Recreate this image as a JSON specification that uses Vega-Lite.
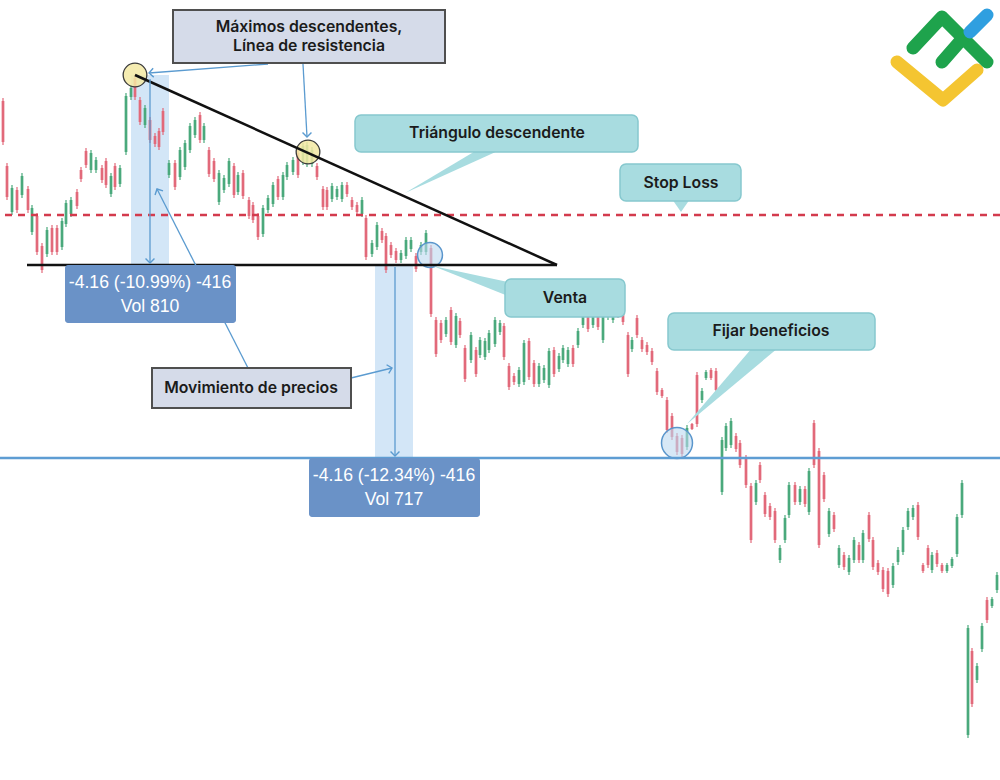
{
"$schema": "https://vega.github.io/schema/vega-lite/v6.json",
"width": 1000, "height": 780, "padding": 0,
"autosize": {"type": "none"},
"background": "white",
"config": {"view": {"stroke": null}},
"datasets": {
"candles": [
{"t":3,"o":37.48,"h":37.54,"l":36.60,"c":36.66},
{"t":7,"o":36.18,"h":36.24,"l":35.50,"c":35.56},
{"t":12,"o":35.26,"h":35.80,"l":35.20,"c":35.74},
{"t":17,"o":35.70,"h":35.76,"l":35.24,"c":35.30},
{"t":22,"o":35.60,"h":36.04,"l":35.54,"c":35.98},
{"t":28,"o":35.72,"h":35.78,"l":35.24,"c":35.30},
{"t":32,"o":34.86,"h":35.40,"l":34.80,"c":35.34},
{"t":37,"o":35.18,"h":35.24,"l":34.40,"c":34.46},
{"t":42,"o":34.58,"h":34.64,"l":34.04,"c":34.10},
{"t":47,"o":34.42,"h":34.96,"l":34.36,"c":34.90},
{"t":52,"o":34.94,"h":35.00,"l":34.40,"c":34.46},
{"t":57,"o":34.94,"h":35.00,"l":34.40,"c":34.46},
{"t":62,"o":34.56,"h":35.14,"l":34.50,"c":35.08},
{"t":66,"o":35.02,"h":35.50,"l":34.96,"c":35.44},
{"t":71,"o":35.22,"h":35.56,"l":35.16,"c":35.50},
{"t":77,"o":35.66,"h":35.72,"l":35.32,"c":35.38},
{"t":81,"o":36.10,"h":36.16,"l":35.86,"c":35.92},
{"t":86,"o":36.48,"h":36.54,"l":36.14,"c":36.20},
{"t":91,"o":36.10,"h":36.50,"l":36.04,"c":36.44},
{"t":96,"o":36.10,"h":36.36,"l":36.04,"c":36.30},
{"t":102,"o":36.14,"h":36.20,"l":35.84,"c":35.90},
{"t":106,"o":36.28,"h":36.34,"l":35.74,"c":35.80},
{"t":111,"o":35.62,"h":36.04,"l":35.56,"c":35.98},
{"t":115,"o":36.18,"h":36.24,"l":35.70,"c":35.76},
{"t":120,"o":35.82,"h":36.20,"l":35.76,"c":36.14},
{"t":126,"o":36.46,"h":37.64,"l":36.40,"c":37.58},
{"t":131,"o":37.56,"h":37.80,"l":37.50,"c":37.74},
{"t":135,"o":37.94,"h":38.00,"l":37.50,"c":37.56},
{"t":140,"o":37.50,"h":37.56,"l":37.00,"c":37.06},
{"t":145,"o":37.00,"h":37.40,"l":36.94,"c":37.34},
{"t":150,"o":37.10,"h":37.16,"l":36.64,"c":36.70},
{"t":155,"o":36.78,"h":36.84,"l":36.56,"c":36.62},
{"t":159,"o":36.88,"h":36.94,"l":36.50,"c":36.56},
{"t":163,"o":37.28,"h":37.34,"l":36.80,"c":36.86},
{"t":169,"o":36.00,"h":36.30,"l":35.94,"c":36.24},
{"t":175,"o":36.24,"h":36.30,"l":35.70,"c":35.76},
{"t":180,"o":35.96,"h":36.56,"l":35.90,"c":36.50},
{"t":185,"o":36.16,"h":36.70,"l":36.10,"c":36.64},
{"t":190,"o":36.50,"h":37.04,"l":36.44,"c":36.98},
{"t":195,"o":36.80,"h":37.16,"l":36.74,"c":37.10},
{"t":200,"o":37.20,"h":37.26,"l":36.64,"c":36.70},
{"t":204,"o":36.70,"h":37.04,"l":36.64,"c":36.98},
{"t":209,"o":36.50,"h":36.56,"l":35.96,"c":36.02},
{"t":214,"o":36.28,"h":36.34,"l":35.86,"c":35.92},
{"t":219,"o":35.46,"h":36.10,"l":35.40,"c":36.04},
{"t":224,"o":35.70,"h":36.00,"l":35.64,"c":35.94},
{"t":229,"o":35.82,"h":36.34,"l":35.76,"c":36.28},
{"t":234,"o":36.18,"h":36.24,"l":35.54,"c":35.60},
{"t":238,"o":35.66,"h":36.06,"l":35.60,"c":36.00},
{"t":243,"o":36.04,"h":36.10,"l":35.52,"c":35.58},
{"t":249,"o":35.50,"h":35.56,"l":35.12,"c":35.18},
{"t":253,"o":35.40,"h":35.46,"l":35.04,"c":35.10},
{"t":258,"o":35.18,"h":35.24,"l":34.70,"c":34.76},
{"t":263,"o":34.82,"h":35.40,"l":34.76,"c":35.34},
{"t":268,"o":35.30,"h":35.60,"l":35.24,"c":35.54},
{"t":273,"o":35.42,"h":35.86,"l":35.36,"c":35.80},
{"t":278,"o":35.92,"h":35.98,"l":35.50,"c":35.56},
{"t":283,"o":35.56,"h":36.06,"l":35.50,"c":36.00},
{"t":287,"o":35.96,"h":36.26,"l":35.90,"c":36.20},
{"t":293,"o":36.06,"h":36.36,"l":36.00,"c":36.30},
{"t":298,"o":36.44,"h":36.50,"l":35.94,"c":36.00},
{"t":303,"o":36.26,"h":36.64,"l":36.20,"c":36.58},
{"t":307,"o":36.22,"h":36.66,"l":36.16,"c":36.60},
{"t":312,"o":36.22,"h":36.56,"l":36.16,"c":36.50},
{"t":317,"o":36.18,"h":36.24,"l":35.90,"c":35.96},
{"t":323,"o":35.72,"h":35.78,"l":35.30,"c":35.36},
{"t":327,"o":35.70,"h":35.76,"l":35.30,"c":35.36},
{"t":332,"o":35.52,"h":35.84,"l":35.46,"c":35.78},
{"t":337,"o":35.56,"h":35.78,"l":35.50,"c":35.72},
{"t":342,"o":35.52,"h":35.86,"l":35.46,"c":35.80},
{"t":347,"o":35.80,"h":35.86,"l":35.56,"c":35.62},
{"t":352,"o":35.50,"h":35.56,"l":35.30,"c":35.36},
{"t":357,"o":35.40,"h":35.46,"l":35.20,"c":35.26},
{"t":362,"o":35.22,"h":35.56,"l":35.16,"c":35.50},
{"t":366,"o":35.14,"h":35.20,"l":34.30,"c":34.36},
{"t":372,"o":34.42,"h":34.70,"l":34.36,"c":34.64},
{"t":377,"o":34.56,"h":35.06,"l":34.50,"c":35.00},
{"t":382,"o":34.88,"h":34.94,"l":34.64,"c":34.70},
{"t":386,"o":34.78,"h":34.84,"l":34.04,"c":34.10},
{"t":391,"o":34.60,"h":34.66,"l":34.34,"c":34.40},
{"t":396,"o":34.48,"h":34.54,"l":34.24,"c":34.30},
{"t":401,"o":34.30,"h":34.50,"l":34.24,"c":34.44},
{"t":406,"o":34.38,"h":34.76,"l":34.32,"c":34.70},
{"t":411,"o":34.52,"h":34.76,"l":34.46,"c":34.70},
{"t":416,"o":34.38,"h":34.44,"l":34.06,"c":34.12},
{"t":421,"o":34.46,"h":34.66,"l":34.40,"c":34.60},
{"t":426,"o":34.46,"h":34.90,"l":34.40,"c":34.84},
{"t":431,"o":34.54,"h":34.60,"l":33.16,"c":33.22},
{"t":436,"o":33.10,"h":33.16,"l":32.36,"c":32.42},
{"t":441,"o":33.04,"h":33.10,"l":32.64,"c":32.70},
{"t":446,"o":32.82,"h":33.16,"l":32.76,"c":33.10},
{"t":451,"o":33.30,"h":33.36,"l":32.60,"c":32.66},
{"t":456,"o":32.60,"h":33.24,"l":32.54,"c":33.18},
{"t":460,"o":33.08,"h":33.14,"l":32.74,"c":32.80},
{"t":465,"o":32.54,"h":32.60,"l":31.86,"c":31.92},
{"t":471,"o":32.30,"h":32.86,"l":32.24,"c":32.80},
{"t":476,"o":32.50,"h":32.56,"l":31.96,"c":32.02},
{"t":480,"o":32.40,"h":32.76,"l":32.34,"c":32.70},
{"t":485,"o":32.36,"h":32.74,"l":32.30,"c":32.68},
{"t":489,"o":32.50,"h":32.90,"l":32.44,"c":32.84},
{"t":495,"o":32.62,"h":33.16,"l":32.56,"c":33.10},
{"t":500,"o":32.86,"h":33.10,"l":32.80,"c":33.04},
{"t":504,"o":32.98,"h":33.04,"l":32.30,"c":32.36},
{"t":509,"o":32.18,"h":32.24,"l":31.70,"c":31.76},
{"t":514,"o":31.98,"h":32.04,"l":31.80,"c":31.86},
{"t":519,"o":31.82,"h":32.16,"l":31.76,"c":32.10},
{"t":524,"o":31.86,"h":32.70,"l":31.80,"c":32.64},
{"t":529,"o":32.68,"h":32.74,"l":31.90,"c":31.96},
{"t":534,"o":32.24,"h":32.30,"l":31.76,"c":31.82},
{"t":539,"o":31.82,"h":32.24,"l":31.76,"c":32.18},
{"t":544,"o":31.90,"h":32.20,"l":31.84,"c":32.14},
{"t":549,"o":31.80,"h":32.54,"l":31.74,"c":32.48},
{"t":554,"o":32.50,"h":32.56,"l":31.96,"c":32.02},
{"t":559,"o":32.12,"h":32.44,"l":32.06,"c":32.38},
{"t":563,"o":32.30,"h":32.60,"l":32.24,"c":32.54},
{"t":568,"o":32.22,"h":32.56,"l":32.16,"c":32.50},
{"t":573,"o":32.54,"h":32.60,"l":32.16,"c":32.22},
{"t":578,"o":32.60,"h":32.94,"l":32.54,"c":32.88},
{"t":583,"o":33.00,"h":33.26,"l":32.94,"c":33.20},
{"t":588,"o":33.28,"h":33.34,"l":32.86,"c":32.92},
{"t":593,"o":33.00,"h":33.40,"l":32.94,"c":33.34},
{"t":598,"o":33.44,"h":33.50,"l":32.90,"c":32.96},
{"t":603,"o":32.70,"h":33.40,"l":32.64,"c":33.34},
{"t":608,"o":33.16,"h":33.50,"l":33.10,"c":33.44},
{"t":613,"o":33.10,"h":33.54,"l":33.04,"c":33.48},
{"t":618,"o":33.40,"h":33.46,"l":33.14,"c":33.20},
{"t":623,"o":33.34,"h":33.40,"l":33.00,"c":33.06},
{"t":628,"o":32.80,"h":32.86,"l":31.96,"c":32.02},
{"t":632,"o":32.52,"h":32.76,"l":32.46,"c":32.70},
{"t":637,"o":33.14,"h":33.20,"l":32.74,"c":32.80},
{"t":642,"o":32.70,"h":32.76,"l":32.46,"c":32.52},
{"t":647,"o":32.60,"h":32.66,"l":32.40,"c":32.46},
{"t":652,"o":32.48,"h":32.54,"l":32.20,"c":32.26},
{"t":657,"o":32.08,"h":32.14,"l":31.60,"c":31.66},
{"t":662,"o":31.70,"h":31.74,"l":31.54,"c":31.58},
{"t":667,"o":31.50,"h":31.56,"l":30.84,"c":30.90},
{"t":672,"o":31.18,"h":31.24,"l":30.70,"c":30.76},
{"t":677,"o":30.78,"h":30.84,"l":30.40,"c":30.46},
{"t":682,"o":30.74,"h":30.80,"l":30.36,"c":30.42},
{"t":687,"o":30.56,"h":31.00,"l":30.50,"c":30.94},
{"t":692,"o":31.02,"h":31.04,"l":30.90,"c":30.92},
{"t":697,"o":32.00,"h":32.06,"l":30.96,"c":31.02},
{"t":702,"o":31.50,"h":31.74,"l":31.44,"c":31.68},
{"t":706,"o":31.94,"h":32.10,"l":31.90,"c":32.06},
{"t":711,"o":32.10,"h":32.14,"l":31.90,"c":31.94},
{"t":716,"o":32.08,"h":32.14,"l":31.64,"c":31.70},
{"t":722,"o":29.66,"h":30.76,"l":29.60,"c":30.70},
{"t":726,"o":30.54,"h":31.04,"l":30.48,"c":30.98},
{"t":731,"o":30.60,"h":31.14,"l":30.54,"c":31.08},
{"t":736,"o":30.78,"h":30.84,"l":30.46,"c":30.52},
{"t":740,"o":30.64,"h":30.70,"l":30.14,"c":30.20},
{"t":746,"o":30.34,"h":30.40,"l":29.74,"c":29.80},
{"t":751,"o":29.78,"h":29.84,"l":28.64,"c":28.70},
{"t":756,"o":29.46,"h":29.90,"l":29.40,"c":29.84},
{"t":760,"o":30.20,"h":30.26,"l":29.84,"c":29.90},
{"t":765,"o":29.60,"h":29.66,"l":29.16,"c":29.22},
{"t":770,"o":29.38,"h":29.44,"l":29.10,"c":29.16},
{"t":775,"o":29.28,"h":29.34,"l":28.64,"c":28.70},
{"t":780,"o":28.30,"h":28.60,"l":28.24,"c":28.54},
{"t":785,"o":28.70,"h":29.20,"l":28.64,"c":29.14},
{"t":789,"o":29.20,"h":29.86,"l":29.14,"c":29.80},
{"t":795,"o":29.80,"h":29.86,"l":29.40,"c":29.46},
{"t":800,"o":29.46,"h":29.78,"l":29.40,"c":29.72},
{"t":805,"o":29.72,"h":29.78,"l":29.36,"c":29.42},
{"t":809,"o":29.26,"h":30.14,"l":29.20,"c":30.08},
{"t":814,"o":31.04,"h":31.10,"l":30.14,"c":30.20},
{"t":819,"o":30.48,"h":30.54,"l":28.54,"c":28.60},
{"t":824,"o":30.00,"h":30.06,"l":29.46,"c":29.52},
{"t":829,"o":28.82,"h":29.34,"l":28.76,"c":29.28},
{"t":834,"o":29.20,"h":29.26,"l":28.86,"c":28.92},
{"t":839,"o":28.20,"h":28.60,"l":28.14,"c":28.54},
{"t":844,"o":28.40,"h":28.46,"l":28.10,"c":28.16},
{"t":849,"o":28.06,"h":28.40,"l":28.00,"c":28.34},
{"t":854,"o":28.30,"h":28.76,"l":28.24,"c":28.70},
{"t":859,"o":28.60,"h":28.66,"l":28.24,"c":28.30},
{"t":863,"o":28.30,"h":28.90,"l":28.24,"c":28.84},
{"t":869,"o":29.20,"h":29.26,"l":28.66,"c":28.72},
{"t":873,"o":28.70,"h":28.76,"l":28.10,"c":28.16},
{"t":878,"o":28.24,"h":28.30,"l":28.00,"c":28.06},
{"t":883,"o":28.10,"h":28.16,"l":27.66,"c":27.72},
{"t":888,"o":28.08,"h":28.14,"l":27.56,"c":27.62},
{"t":893,"o":27.80,"h":28.24,"l":27.74,"c":28.18},
{"t":898,"o":28.26,"h":28.56,"l":28.20,"c":28.50},
{"t":903,"o":28.46,"h":28.96,"l":28.40,"c":28.90},
{"t":908,"o":28.96,"h":29.34,"l":28.90,"c":29.28},
{"t":913,"o":29.16,"h":29.40,"l":29.10,"c":29.34},
{"t":918,"o":29.40,"h":29.46,"l":28.70,"c":28.76},
{"t":923,"o":28.20,"h":28.24,"l":28.04,"c":28.08},
{"t":928,"o":28.54,"h":28.60,"l":28.14,"c":28.20},
{"t":932,"o":28.10,"h":28.46,"l":28.04,"c":28.40},
{"t":937,"o":28.44,"h":28.50,"l":28.16,"c":28.22},
{"t":942,"o":28.20,"h":28.24,"l":28.04,"c":28.08},
{"t":947,"o":28.08,"h":28.24,"l":28.04,"c":28.20},
{"t":952,"o":28.18,"h":28.36,"l":28.14,"c":28.32},
{"t":957,"o":28.42,"h":29.22,"l":28.36,"c":29.16},
{"t":962,"o":29.20,"h":29.90,"l":29.14,"c":29.84},
{"t":968,"o":24.80,"h":27.00,"l":24.74,"c":26.94},
{"t":972,"o":26.48,"h":26.54,"l":25.36,"c":25.42},
{"t":977,"o":25.90,"h":26.24,"l":25.84,"c":26.18},
{"t":982,"o":26.52,"h":27.04,"l":26.46,"c":26.98},
{"t":987,"o":27.50,"h":27.56,"l":27.04,"c":27.10},
{"t":992,"o":27.38,"h":27.56,"l":27.34,"c":27.52},
{"t":997,"o":27.70,"h":28.06,"l":27.64,"c":28.00}
]
},
"layer": [
{"data": {"values": [{"x":131,"x2":169,"y":38.0,"y2":34.2},{"x":375,"x2":413,"y":34.2,"y2":30.34}]},
 "mark": {"type": "rect", "color": "#d3e6f7"},
 "encoding": {
  "x": {"field": "x", "type": "quantitative", "scale": {"domain": [0,1000], "nice": false, "zero": false}, "axis": null},
  "x2": {"field": "x2"},
  "y": {"field": "y", "type": "quantitative", "scale": {"domain": [23.9,39.5], "nice": false, "zero": false}, "axis": null},
  "y2": {"field": "y2"}}},
{"data": {"name": "candles"},
 "mark": {"type": "rule", "strokeWidth": 1.2},
 "encoding": {
  "x": {"field": "t", "type": "quantitative", "scale": {"domain": [0,1000], "nice": false, "zero": false}, "axis": null},
  "y": {"field": "h", "type": "quantitative", "scale": {"domain": [23.9,39.5], "nice": false, "zero": false}, "axis": null},
  "y2": {"field": "l"},
  "color": {"condition": {"test": "datum.c >= datum.o", "value": "#4aa97c"}, "value": "#e2697a"}}},
{"data": {"name": "candles"},
 "mark": {"type": "rule", "strokeWidth": 2.7},
 "encoding": {
  "x": {"field": "t", "type": "quantitative", "scale": {"domain": [0,1000], "nice": false, "zero": false}, "axis": null},
  "y": {"field": "o", "type": "quantitative", "scale": {"domain": [23.9,39.5], "nice": false, "zero": false}, "axis": null},
  "y2": {"field": "c"},
  "color": {"condition": {"test": "datum.c >= datum.o", "value": "#4aa97c"}, "value": "#e2697a"}}},
{"data": {"values": [{"x":135,"y":38.0},{"x":308,"y":36.46}]},
 "mark": {"type": "point", "shape": "circle", "size": 560, "filled": true, "fill": "#f3e9a3", "fillOpacity": 0.85, "stroke": "#3a3a3a", "strokeWidth": 1.3},
 "encoding": {
  "x": {"field": "x", "type": "quantitative", "scale": {"domain": [0,1000], "nice": false, "zero": false}, "axis": null},
  "y": {"field": "y", "type": "quantitative", "scale": {"domain": [23.9,39.5], "nice": false, "zero": false}, "axis": null}}},
{"data": {"values": [{"x":430,"y":34.4}]},
 "mark": {"type": "point", "shape": "circle", "size": 620, "filled": true, "fill": "#bcd8f0", "fillOpacity": 0.6, "stroke": "#5a96cc", "strokeWidth": 1.5},
 "encoding": {
  "x": {"field": "x", "type": "quantitative", "scale": {"domain": [0,1000], "nice": false, "zero": false}, "axis": null},
  "y": {"field": "y", "type": "quantitative", "scale": {"domain": [23.9,39.5], "nice": false, "zero": false}, "axis": null}}},
{"data": {"values": [{"x":677,"y":30.64}]},
 "mark": {"type": "point", "shape": "circle", "size": 960, "filled": true, "fill": "#bcd8f0", "fillOpacity": 0.6, "stroke": "#5a96cc", "strokeWidth": 1.5},
 "encoding": {
  "x": {"field": "x", "type": "quantitative", "scale": {"domain": [0,1000], "nice": false, "zero": false}, "axis": null},
  "y": {"field": "y", "type": "quantitative", "scale": {"domain": [23.9,39.5], "nice": false, "zero": false}, "axis": null}}},
{"data": {"values": [{"y":35.2}]},
 "mark": {"type": "rule", "color": "#d33b4d", "strokeWidth": 2.5, "strokeDash": [7,6]},
 "encoding": {"y": {"field": "y", "type": "quantitative", "scale": {"domain": [23.9,39.5], "nice": false, "zero": false}, "axis": null}}},
{"data": {"values": [{"y":30.34}]},
 "mark": {"type": "rule", "color": "#5e9dd3", "strokeWidth": 2.5},
 "encoding": {"y": {"field": "y", "type": "quantitative", "scale": {"domain": [23.9,39.5], "nice": false, "zero": false}, "axis": null}}},
{"data": {"values": [{"x":135,"y":38.0,"x2":557,"y2":34.2},{"x":27,"y":34.2,"x2":557,"y2":34.2}]},
 "mark": {"type": "rule", "color": "#111111", "strokeWidth": 2.5},
 "encoding": {
  "x": {"field": "x", "type": "quantitative", "scale": {"domain": [0,1000], "nice": false, "zero": false}, "axis": null},
  "x2": {"field": "x2"},
  "y": {"field": "y", "type": "quantitative", "scale": {"domain": [23.9,39.5], "nice": false, "zero": false}, "axis": null},
  "y2": {"field": "y2"}}},
{"data": {"values": [
  {"x":150,"y":37.92,"x2":150,"y2":34.26},
  {"x":395,"y":34.16,"x2":395,"y2":30.38},
  {"x":268,"y":38.22,"x2":149,"y2":38.04},
  {"x":303,"y":38.22,"x2":307,"y2":36.76},
  {"x":248,"y":32.14,"x2":157,"y2":35.72},
  {"x":351,"y":31.94,"x2":392,"y2":32.14}]},
 "mark": {"type": "rule", "color": "#5b9bd0", "strokeWidth": 1.3},
 "encoding": {
  "x": {"field": "x", "type": "quantitative", "scale": {"domain": [0,1000], "nice": false, "zero": false}, "axis": null},
  "x2": {"field": "x2"},
  "y": {"field": "y", "type": "quantitative", "scale": {"domain": [23.9,39.5], "nice": false, "zero": false}, "axis": null},
  "y2": {"field": "y2"}}},
{"data": {"values": [{"x":150,"y":34.24},{"x":395,"y":30.38},{"x":307,"y":36.76}]},
 "mark": {"type": "point", "shape": "M-1,-1L0,0L1,-1", "size": 80, "filled": false, "color": "#5b9bd0", "strokeWidth": 1.4, "opacity": 1},
 "encoding": {
  "x": {"field": "x", "type": "quantitative", "scale": {"domain": [0,1000], "nice": false, "zero": false}, "axis": null},
  "y": {"field": "y", "type": "quantitative", "scale": {"domain": [23.9,39.5], "nice": false, "zero": false}, "axis": null}}},
{"data": {"values": [{"x":149,"y":38.04}]},
 "mark": {"type": "point", "shape": "M-1,-1L0,0L1,-1", "size": 80, "angle": 86, "filled": false, "color": "#5b9bd0", "strokeWidth": 1.4, "opacity": 1},
 "encoding": {
  "x": {"field": "x", "type": "quantitative", "scale": {"domain": [0,1000], "nice": false, "zero": false}, "axis": null},
  "y": {"field": "y", "type": "quantitative", "scale": {"domain": [23.9,39.5], "nice": false, "zero": false}, "axis": null}}},
{"data": {"values": [{"x":157,"y":35.72}]},
 "mark": {"type": "point", "shape": "M-1,-1L0,0L1,-1", "size": 80, "angle": 153, "filled": false, "color": "#5b9bd0", "strokeWidth": 1.4, "opacity": 1},
 "encoding": {
  "x": {"field": "x", "type": "quantitative", "scale": {"domain": [0,1000], "nice": false, "zero": false}, "axis": null},
  "y": {"field": "y", "type": "quantitative", "scale": {"domain": [23.9,39.5], "nice": false, "zero": false}, "axis": null}}},
{"data": {"values": [{"x":392,"y":32.14}]},
 "mark": {"type": "point", "shape": "M-1,-1L0,0L1,-1", "size": 80, "angle": 256, "filled": false, "color": "#5b9bd0", "strokeWidth": 1.4, "opacity": 1},
 "encoding": {
  "x": {"field": "x", "type": "quantitative", "scale": {"domain": [0,1000], "nice": false, "zero": false}, "axis": null},
  "y": {"field": "y", "type": "quantitative", "scale": {"domain": [23.9,39.5], "nice": false, "zero": false}, "axis": null}}},
{"data": {"values": [
  {"id":"tri","y":36.5,"x":477,"x2":500},{"id":"tri","y":35.64,"x":405,"x2":405},
  {"id":"sl","y":35.52,"x":672,"x2":690},{"id":"sl","y":35.26,"x":681,"x2":681},
  {"id":"fb","y":32.54,"x":752,"x2":778},{"id":"fb","y":31.02,"x":687,"x2":687}]},
 "mark": {"type": "area", "orient": "horizontal", "color": "#a8dce0", "opacity": 1},
 "encoding": {
  "y": {"field": "y", "type": "quantitative", "scale": {"domain": [23.9,39.5], "nice": false, "zero": false}, "axis": null},
  "x": {"field": "x", "type": "quantitative", "stack": null, "scale": {"domain": [0,1000], "nice": false, "zero": false}, "axis": null},
  "x2": {"field": "x2"},
  "detail": {"field": "id"}}},
{"data": {"values": [{"x":433,"y":34.18,"y2":34.18},{"x":508,"y":33.86,"y2":33.58}]},
 "mark": {"type": "area", "orient": "vertical", "color": "#a8dce0", "opacity": 1},
 "encoding": {
  "x": {"field": "x", "type": "quantitative", "scale": {"domain": [0,1000], "nice": false, "zero": false}, "axis": null},
  "y": {"field": "y", "type": "quantitative", "stack": null, "scale": {"domain": [23.9,39.5], "nice": false, "zero": false}, "axis": null},
  "y2": {"field": "y2"}}},
{"data": {"values": [{"x":173,"x2":445,"y":39.30,"y2":38.24},{"x":152,"x2":351,"y":32.14,"y2":31.34}]},
 "mark": {"type": "rect", "fill": "#d5dbe9", "stroke": "#4f4f4f", "strokeWidth": 2},
 "encoding": {
  "x": {"field": "x", "type": "quantitative", "scale": {"domain": [0,1000], "nice": false, "zero": false}, "axis": null},
  "x2": {"field": "x2"},
  "y": {"field": "y", "type": "quantitative", "scale": {"domain": [23.9,39.5], "nice": false, "zero": false}, "axis": null},
  "y2": {"field": "y2"}}},
{"data": {"values": [
  {"x":355,"x2":638,"y":37.20,"y2":36.46},
  {"x":620,"x2":741,"y":36.22,"y2":35.48},
  {"x":505,"x2":625,"y":33.92,"y2":33.16},
  {"x":668,"x2":875,"y":33.24,"y2":32.50}]},
 "mark": {"type": "rect", "fill": "#a8dce0", "stroke": "#86c8ce", "strokeWidth": 1.5, "cornerRadius": 6},
 "encoding": {
  "x": {"field": "x", "type": "quantitative", "scale": {"domain": [0,1000], "nice": false, "zero": false}, "axis": null},
  "x2": {"field": "x2"},
  "y": {"field": "y", "type": "quantitative", "scale": {"domain": [23.9,39.5], "nice": false, "zero": false}, "axis": null},
  "y2": {"field": "y2"}}},
{"data": {"values": [{"x":65,"x2":236,"y":34.20,"y2":33.04},{"x":309,"x2":480,"y":30.34,"y2":29.16}]},
 "mark": {"type": "rect", "fill": "#6a92c7", "cornerRadius": 3},
 "encoding": {
  "x": {"field": "x", "type": "quantitative", "scale": {"domain": [0,1000], "nice": false, "zero": false}, "axis": null},
  "x2": {"field": "x2"},
  "y": {"field": "y", "type": "quantitative", "scale": {"domain": [23.9,39.5], "nice": false, "zero": false}, "axis": null},
  "y2": {"field": "y2"}}},
{"data": {"values": [
  {"x":309,"y":38.96,"s":"Máximos descendentes,"},
  {"x":309,"y":38.58,"s":"Línea de resistencia"},
  {"x":497,"y":36.84,"s":"Triángulo descendente"},
  {"x":681,"y":35.84,"s":"Stop Loss"},
  {"x":565,"y":33.54,"s":"Venta"},
  {"x":771,"y":32.88,"s":"Fijar beneficios"},
  {"x":251,"y":31.74,"s":"Movimiento de precios"}]},
 "mark": {"type": "text", "font": "Inter", "fontWeight": 600, "fontSize": 15.8, "color": "#1b1b1b", "align": "center", "baseline": "middle"},
 "encoding": {
  "x": {"field": "x", "type": "quantitative", "scale": {"domain": [0,1000], "nice": false, "zero": false}, "axis": null},
  "y": {"field": "y", "type": "quantitative", "scale": {"domain": [23.9,39.5], "nice": false, "zero": false}, "axis": null},
  "text": {"field": "s"}}},
{"data": {"values": [
  {"x":150,"y":33.84,"s":"-4.16 (-10.99%) -416"},
  {"x":150,"y":33.36,"s":"Vol 810"},
  {"x":394,"y":29.98,"s":"-4.16 (-12.34%) -416"},
  {"x":394,"y":29.50,"s":"Vol 717"}]},
 "mark": {"type": "text", "font": "Liberation Sans", "fontSize": 17.6, "color": "#ffffff", "align": "center", "baseline": "middle"},
 "encoding": {
  "x": {"field": "x", "type": "quantitative", "scale": {"domain": [0,1000], "nice": false, "zero": false}, "axis": null},
  "y": {"field": "y", "type": "quantitative", "scale": {"domain": [23.9,39.5], "nice": false, "zero": false}, "axis": null},
  "text": {"field": "s"}}},
{"data": {"values": [{"x":897,"y":38.26},{"x":943,"y":37.50},{"x":977,"y":38.10}]},
 "mark": {"type": "line", "color": "#f4c531", "strokeWidth": 13, "strokeCap": "round", "strokeJoin": "round"},
 "encoding": {
  "x": {"field": "x", "type": "quantitative", "scale": {"domain": [0,1000], "nice": false, "zero": false}, "axis": null},
  "y": {"field": "y", "type": "quantitative", "scale": {"domain": [23.9,39.5], "nice": false, "zero": false}, "axis": null}}},
{"data": {"values": [{"id":"a","x":913,"y":38.54},{"id":"a","x":942,"y":39.16},{"id":"a","x":987,"y":38.26},{"id":"b","x":942,"y":38.26},{"id":"b","x":963,"y":38.74}]},
 "mark": {"type": "line", "color": "#1ea34c", "strokeWidth": 13, "strokeCap": "round", "strokeJoin": "round"},
 "encoding": {
  "x": {"field": "x", "type": "quantitative", "scale": {"domain": [0,1000], "nice": false, "zero": false}, "axis": null},
  "y": {"field": "y", "type": "quantitative", "scale": {"domain": [23.9,39.5], "nice": false, "zero": false}, "axis": null},
  "detail": {"field": "id"}}},
{"data": {"values": [{"x":970,"y":38.86},{"x":987,"y":39.20}]},
 "mark": {"type": "line", "color": "#2f9fe0", "strokeWidth": 13, "strokeCap": "round"},
 "encoding": {
  "x": {"field": "x", "type": "quantitative", "scale": {"domain": [0,1000], "nice": false, "zero": false}, "axis": null},
  "y": {"field": "y", "type": "quantitative", "scale": {"domain": [23.9,39.5], "nice": false, "zero": false}, "axis": null}}}
]
}
